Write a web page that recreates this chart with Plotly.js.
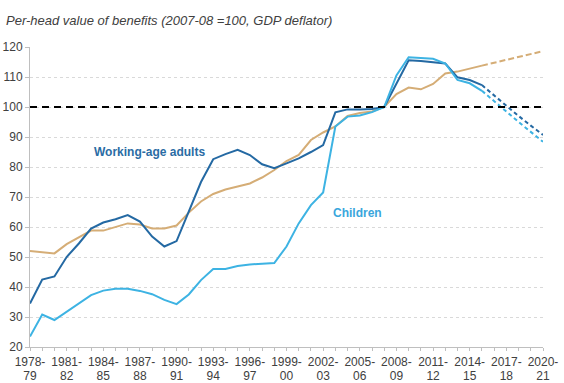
<!DOCTYPE html>
<html>
<head>
<meta charset="utf-8">
<script src="https://cdn.plot.ly/plotly-3.0.1.min.js"></script>
<style>html,body{margin:0;padding:0;background:#fff;}#chart{width:564px;height:383px;}</style>
</head>
<body>
<div id="chart"></div>
<script>
var categories = ["1978-79","1979-80","1980-81","1981-82","1982-83","1983-84","1984-85","1985-86","1986-87","1987-88",
"1988-89","1989-90","1990-91","1991-92","1992-93","1993-94","1994-95","1995-96","1996-97","1997-98",
"1998-99","1999-00","2000-01","2001-02","2002-03","2003-04","2004-05","2005-06","2006-07","2007-08",
"2008-09","2009-10","2010-11","2011-12","2012-13","2013-14","2014-15","2015-16","2016-17","2017-18",
"2018-19","2019-20","2020-21"];

var workingAge = [34.5,42.5,43.5,50,54.5,59.5,61.5,62.6,64,61.8,
56.8,53.5,55.3,65,75,82.6,84.3,85.7,84,80.9,
79.6,81.2,82.9,85,87.3,98.2,99.2,99.2,99.3,100,
108,115.6,115.3,115,114.5,109.9,109,107.3];
var workingAgeProj = [107.3,103.8,100.4,97,93.8,90.7];

var children = [23.5,30.8,29,31.8,34.3,37.3,38.8,39.4,39.4,38.7,
37.6,35.7,34.3,37.5,42.3,46,46,47,47.5,47.7,
48,53.5,61.2,67.3,71.5,93.5,96.8,97.2,98.3,100,
110.5,116.6,116.3,116.1,114.5,109,107.9,105.4];
var childrenProj = [105.4,101.8,98.5,95,91.7,88.4];

var pensioners = [52,51.6,51.2,54.3,56.6,58.8,58.8,60,61.2,60.8,
59.5,59.5,60.5,64.8,68.5,71,72.5,73.5,74.5,76.5,
79,82,84,89,91.5,93.5,97,98,98.5,100,
104.3,106.5,105.9,107.7,111.2,111.8,112.9,113.8];
var pensionersProj = [113.8,114.8,115.7,116.7,117.6,118.6];

var baseline = 100;

var idx = categories.map(function(c,i){return i;});
var projStart = workingAge.length - 1;
function xs(n, start){ return idx.slice(start, start+n); }

var cWA = '#2469a3', cCh = '#3db3e3', cPe = '#d5ad76';

var traces = [
  {x: xs(pensioners.length,0), y: pensioners, mode:'lines', line:{color:cPe, width:2}, hoverinfo:'skip'},
  {x: xs(pensionersProj.length,projStart), y: pensionersProj, mode:'lines', line:{color:cPe, width:2, dash:'6px,3px'}, hoverinfo:'skip'},
  {x: xs(workingAge.length,0), y: workingAge, mode:'lines', line:{color:cWA, width:2}, hoverinfo:'skip'},
  {x: xs(workingAgeProj.length,projStart), y: workingAgeProj, mode:'lines', line:{color:cWA, width:2, dash:'4px,3px'}, hoverinfo:'skip'},
  {x: xs(children.length,0), y: children, mode:'lines', line:{color:cCh, width:2}, hoverinfo:'skip'},
  {x: xs(childrenProj.length,projStart), y: childrenProj, mode:'lines', line:{color:cCh, width:2, dash:'4px,3px'}, hoverinfo:'skip'},
  {x: [0], y: [null], xaxis:'x2', mode:'lines', hoverinfo:'skip'}
];

var tickTop = categories.map(function(c,i){ return (i % 3 === 0) ? c.split('-')[0] + '-' : ''; });
var tickBottom = categories.map(function(c,i){ return (i % 3 === 0) ? c.split('-')[1] : ''; });

var layout = {
  width:564, height:383,
  margin:{l:30, r:21, t:47, b:36},
  paper_bgcolor:'#fff', plot_bgcolor:'#fff',
  showlegend:false,
  font:{family:'Liberation Sans, Arial, sans-serif', size:12, color:'#404040'},
  title:{text:'<i>Per-head value of benefits (2007-08 =100, GDP deflator)</i>', x:6/564, xanchor:'left', xref:'container',
         y:1-20/383, yanchor:'middle', yref:'container', font:{size:13, color:'#404040', family:'Liberation Sans, Arial, sans-serif'}},
  xaxis:{range:[0,42], tickmode:'array', tickvals:idx, ticktext:tickTop, ticks:'outside', ticklen:3, tickcolor:'#bfbfbf',
         showline:true, linecolor:'#bfbfbf', linewidth:1, showgrid:false, zeroline:false, tickangle:0,
         ticklabelstandoff:1, tickfont:{size:12, color:'#404040'}, fixedrange:true},
  xaxis2:{range:[0,42], overlaying:'x', anchor:'y', side:'bottom', tickmode:'array', tickvals:idx, ticktext:tickBottom,
         ticks:'', showline:false, showgrid:false, zeroline:false, tickangle:0, ticklabelstandoff:20,
         tickfont:{size:12, color:'#404040'}, fixedrange:true},
  yaxis:{range:[20,120], dtick:10, tick0:20, ticks:'outside', ticklen:4, tickcolor:'#bfbfbf',
         showline:true, linecolor:'#bfbfbf', linewidth:1, showgrid:true, gridcolor:'#d9d9d9', griddash:'dot',
         zeroline:false, tickfont:{size:12, color:'#404040'}, fixedrange:true},
  shapes:[{type:'line', xref:'x', yref:'y', x0:0, x1:42, y0:baseline, y1:baseline,
           line:{color:'#000', width:2, dash:'7px,5px'}, layer:'above'}],
  annotations:[
    {text:'<b>Working-age adults</b>', x:9.8, y:85, xref:'x', yref:'y', showarrow:false, font:{size:12, color:'#2a6ca4'}},
    {text:'<b>Children</b>', x:26.8, y:64.7, xref:'x', yref:'y', showarrow:false, font:{size:12, color:'#3aa6dc'}},
    {text:'<b>Pensioners</b>', x:40.0, y:123.3, xref:'x', yref:'y', showarrow:false, font:{size:12, color:'#b8915c'}}
  ]
};

Plotly.newPlot('chart', traces, layout, {staticPlot:true, displayModeBar:false});
</script>
</body>
</html>
